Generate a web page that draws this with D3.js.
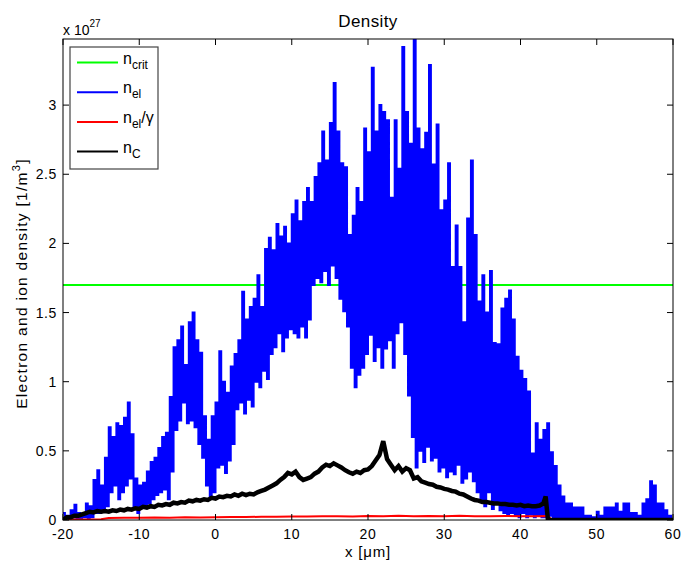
<!DOCTYPE html>
<html><head><meta charset="utf-8">
<script src="https://cdn.jsdelivr.net/npm/d3@7"></script>
<style>body{margin:0;background:#fff}svg{display:block}text{font-family:"Liberation Sans",Arial,sans-serif}</style>
</head><body>
<svg id="c" width="682" height="562"></svg>
<script>
// ---- data (values in units of 1e27 m^-3, x in µm) ----
const xTicks = [-20, -10, 0, 10, 20, 30, 40, 50, 60];
const yTicks = [0, 0.5, 1, 1.5, 2, 2.5, 3];
const yTickLabels = ["0", "0.5", "1", "1.5", "2", "2.5", "3"];
const nCrit = 1.70;
// electron density: upper and lower excursions at x = -20, -19.5, ... 59.5
const elStart = -20, elStep = 0.5;
const elHigh = [0.05,0.03,0.07,0.11,0.05,0.04,0.12,0.10,0.29,0.36,0.25,0.45,0.67,0.60,0.70,0.68,0.74,0.85,0.62,0.30,
  0.25,0.27,0.35,0.42,0.45,0.52,0.60,0.63,0.89,1.25,1.30,1.40,1.12,1.43,1.50,1.30,1.21,0.75,0.58,0.75,
  0.85,1.22,1.00,0.92,1.11,1.20,1.30,1.65,1.45,1.54,1.60,1.77,1.54,1.96,2.04,1.95,2.14,2.05,2.12,2.00,
  2.21,2.31,2.16,2.30,2.40,2.30,2.48,2.58,2.81,2.60,2.87,3.16,2.81,2.58,2.55,2.06,2.20,2.40,2.30,2.83,
  2.66,3.27,2.81,3.00,2.95,2.89,2.33,2.89,2.54,3.42,2.95,2.72,3.47,2.83,2.68,2.80,3.29,2.57,2.86,2.24,
  2.31,2.58,1.83,2.13,1.83,1.43,2.18,2.60,2.06,1.58,1.77,1.50,1.80,1.28,1.27,1.53,1.60,1.66,1.45,1.18,
  1.08,1.02,0.93,0.48,0.70,0.58,0.65,0.70,0.49,0.39,0.25,0.17,0.12,0.12,0.09,0.09,0.09,0.03,0.03,0.02,
  0.06,0.03,0.09,0.09,0.09,0.12,0.06,0.12,0.12,0.05,0.05,0.03,0.12,0.15,0.28,0.25,0.12,0.12,0.07,0.03];
const elLow = [0.01,0.00,0.02,0.01,0.00,0.02,0.01,0.02,0.05,0.05,0.07,0.10,0.20,0.25,0.15,0.20,0.25,0.30,0.10,0.05,
  0.10,0.10,0.12,0.15,0.18,0.20,0.22,0.15,0.35,0.65,0.72,0.85,0.70,0.72,0.67,0.55,0.45,0.25,0.17,0.20,
  0.38,0.40,0.34,0.43,0.55,0.80,0.85,0.77,0.87,0.82,1.00,0.96,1.08,1.02,1.20,1.25,1.35,1.22,1.32,1.38,
  1.35,1.32,1.40,1.32,1.45,1.70,1.75,1.72,1.80,1.70,1.84,1.75,1.60,1.51,1.40,1.10,0.96,1.05,1.10,1.20,
  1.34,1.15,1.25,1.10,1.24,1.30,1.10,1.35,1.43,1.20,0.90,0.60,0.38,0.50,0.42,0.53,0.43,0.45,0.35,0.38,
  0.31,0.35,0.33,0.40,0.27,0.30,0.35,0.28,0.20,0.15,0.10,0.20,0.08,0.12,0.07,0.05,0.04,0.05,0.03,0.02,
  0.05,0.02,0.04,0.02,0.03,0.02,0.02,0.03,0.01,0.01,0.01,0.02,0.01,0.01,0.01,0.02,0.01,0.01,0.01,0.01,
  0.01,0.01,0.02,0.01,0.01,0.02,0.01,0.01,0.02,0.01,0.01,0.01,0.02,0.01,0.02,0.01,0.01,0.02,0.01,0.01];
// carbon ion density at x = -20, -19.5, ... 43, then a short tail
const cStart = -20, cStep = 0.5;
const cVal = [0.00,0.02,0.02,0.03,0.03,0.04,0.05,0.06,0.055,0.065,0.06,0.065,0.06,0.07,0.065,0.075,0.07,0.08,0.075,0.085,
  0.08,0.095,0.09,0.10,0.095,0.11,0.105,0.115,0.11,0.125,0.12,0.13,0.125,0.14,0.135,0.145,0.14,0.15,0.145,0.16,
  0.155,0.17,0.165,0.175,0.17,0.185,0.175,0.19,0.18,0.19,0.185,0.20,0.21,0.22,0.235,0.25,0.265,0.29,0.31,0.34,
  0.33,0.35,0.31,0.29,0.30,0.31,0.335,0.35,0.38,0.40,0.39,0.41,0.395,0.38,0.36,0.345,0.335,0.35,0.34,0.36,
  0.365,0.39,0.43,0.47,0.57,0.44,0.40,0.36,0.39,0.35,0.375,0.36,0.30,0.31,0.28,0.27,0.26,0.255,0.24,0.235,
  0.225,0.22,0.21,0.205,0.19,0.185,0.17,0.155,0.145,0.14,0.13,0.13,0.125,0.12,0.12,0.115,0.115,0.11,0.11,0.105,
  0.11,0.10,0.105,0.10,0.10,0.105,0.12];
const cTailX = [43.3, 43.6, 60];
const cTailVal = [0.17, 0.0, 0.0];
// electron density divided by gamma
const rX = [-20,-19.5,-19,-15,-14,-12,-10,-8,-6,-4,-2,0,2,4,6,8,10,12,14,16,18,20,22,24,26,28,30,32,34,36,38,40,42,43.5,44,46,50,54,58,60];
const rVal = [0.005,0.012,0.004,0.006,0.015,0.017,0.016,0.018,0.017,0.019,0.018,0.02,0.022,0.021,0.024,0.023,0.026,0.025,0.027,0.028,0.026,0.029,0.027,0.03,0.028,0.029,0.027,0.03,0.028,0.027,0.029,0.028,0.027,0.028,0.008,0.006,0.007,0.006,0.007,0.006];

// ---- layout ----
const svg = d3.select("#c");
const L = 63, R = 673, T = 39, B = 520;
const x = d3.scaleLinear().domain([-20, 60]).range([L, R]);
const y = d3.scaleLinear().domain([0, 3.478]).range([B, T]);

svg.append("clipPath").attr("id","pa").append("rect")
  .attr("x", L).attr("y", T).attr("width", R - L).attr("height", B - T);
const g = svg.append("g").attr("clip-path","url(#pa)");
const line = d3.line().x(d => x(d[0])).y(d => y(d[1]));

// green critical density
g.append("path").datum([[-20, nCrit], [60, nCrit]]).attr("d", line)
  .attr("stroke", "#00ff00").attr("stroke-width", 2).attr("fill", "none");

// blue electron density (alternating upper/lower excursions)
const elPts = [];
elHigh.forEach((h, i) => {
  const xi = elStart + i * elStep;
  elPts.push([xi, h]);
  elPts.push([xi + elStep / 2, elLow[i]]);
});
g.append("path").datum(elPts).attr("d", line.curve(d3.curveStepAfter))
  .attr("stroke", "#0000ff").attr("stroke-width", 2).attr("fill", "none");
line.curve(d3.curveLinear);

// red n_el/gamma
g.append("path").datum(rX.map((v, i) => [v, rVal[i]])).attr("d", line)
  .attr("stroke", "#ff0000").attr("stroke-width", 2).attr("fill", "none");

// black carbon
const cPts = cVal.map((v, i) => [cStart + i * cStep, v]).concat(cTailX.map((v, i) => [v, cTailVal[i]]));
g.append("path").datum(cPts).attr("d", line)
  .attr("stroke", "#000").attr("stroke-width", 4.5).attr("fill", "none").attr("stroke-linejoin","miter");

// ---- axes (box with inward ticks) ----
const ax = svg.append("g");
ax.append("rect").attr("x", L).attr("y", T).attr("width", R - L).attr("height", B - T)
  .attr("fill", "none").attr("stroke", "#000").attr("stroke-width", 1);
const tl = 6;
xTicks.forEach(t => {
  ax.append("line").attr("x1", x(t)).attr("x2", x(t)).attr("y1", B).attr("y2", B - tl).attr("stroke", "#000");
  ax.append("line").attr("x1", x(t)).attr("x2", x(t)).attr("y1", T).attr("y2", T + tl).attr("stroke", "#000");
  ax.append("text").attr("x", x(t)).attr("y", B + 19).attr("text-anchor", "middle")
    .attr("font-size", 14).attr("letter-spacing", 0.6).text(t);
});
yTicks.forEach((t, i) => {
  ax.append("line").attr("x1", L).attr("x2", L + tl).attr("y1", y(t)).attr("y2", y(t)).attr("stroke", "#000");
  ax.append("line").attr("x1", R).attr("x2", R - tl).attr("y1", y(t)).attr("y2", y(t)).attr("stroke", "#000");
  ax.append("text").attr("x", L - 6).attr("y", y(t) + 5).attr("text-anchor", "end")
    .attr("font-size", 14).attr("letter-spacing", 0.6).text(yTickLabels[i]);
});

// exponent label
const ex = svg.append("text").attr("x", 63).attr("y", 35).attr("font-size", 14);
ex.append("tspan").text("x 10");
ex.append("tspan").attr("dy", -8).attr("font-size", 10).text("27");

// title and axis labels
svg.append("text").attr("x", (L + R) / 2).attr("y", 27).attr("text-anchor", "middle")
  .attr("font-size", 17).attr("letter-spacing", 0.4).text("Density");
svg.append("text").attr("x", (L + R) / 2).attr("y", 557).attr("text-anchor", "middle")
  .attr("font-size", 15).attr("letter-spacing", 0.8).text("x [\u03bcm]");
const yl = svg.append("text").attr("transform", `translate(27,${(T + B) / 2 + 4}) rotate(-90)`)
  .attr("text-anchor", "middle").attr("font-size", 15.5).attr("letter-spacing", 1.3);
yl.append("tspan").text("Electron and ion density [1/m");
yl.append("tspan").attr("dy", -7).attr("font-size", 11).text("3");
yl.append("tspan").attr("dy", 7).text("]");

// ---- legend ----
const legItems = [
  {c: "#00ff00", main: "n", sub: "crit", tail: ""},
  {c: "#0000ff", main: "n", sub: "el", tail: ""},
  {c: "#ff0000", main: "n", sub: "el", tail: "/\u03b3"},
  {c: "#000000", main: "n", sub: "C", tail: ""}
];
const lg = svg.append("g");
lg.append("rect").attr("x", 70).attr("y", 47).attr("width", 88).attr("height", 122)
  .attr("fill", "#fff").attr("stroke", "#444").attr("stroke-width", 1.2);
legItems.forEach((d, i) => {
  const yy = 62.5 + i * 29.7;
  lg.append("line").attr("x1", 77).attr("x2", 118).attr("y1", yy).attr("y2", yy)
    .attr("stroke", d.c).attr("stroke-width", 2);
  const t = lg.append("text").attr("x", 123).attr("y", yy + 1).attr("font-size", 16);
  t.append("tspan").text(d.main);
  t.append("tspan").attr("dy", 5).attr("font-size", 12).text(d.sub);
  if (d.tail) t.append("tspan").attr("dy", -5).text(d.tail);
});
</script>
</body></html>
